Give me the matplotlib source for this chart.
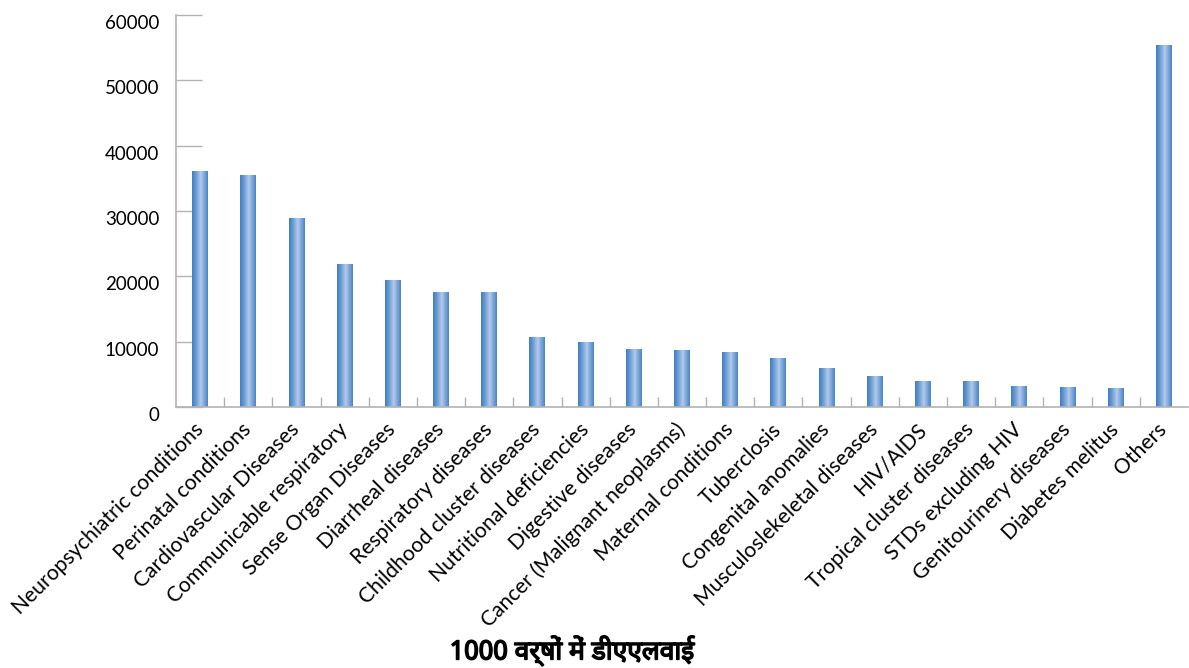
import numpy as np
import matplotlib.pyplot as plt
import matplotlib.patheffects as pe
from matplotlib.colors import LinearSegmentedColormap

# DALY (हज़ार वर्षों में) by cause
causes = ['Neuropsychiatric conditions', 'Perinatal conditions', 'Cardiovascular Diseases',
          'Communicable respiratory', 'Sense Organ Diseases', 'Diarrheal diseases',
          'Respiratory diseases', 'Childhood cluster diseases', 'Nutritional deficiencies',
          'Digestive diseases', 'Cancer (Malignant neoplasms)', 'Maternal conditions',
          'Tuberclosis', 'Congenital anomalies', 'Musculoslekeletal diseases', 'HIV/AIDS',
          'Tropical cluster diseases', 'STDs excluding HIV', 'Genitourinery diseases',
          'Diabetes melitus', 'Others']
dalys = [36000, 35500, 28900, 21750, 19300, 17500, 17500, 10600, 9800, 8750, 8600,
         8300, 7400, 5850, 4620, 3850, 3850, 3100, 2950, 2800, 55400]
yticks = [0, 10000, 20000, 30000, 40000, 50000, 60000]
xlabel = '1000 वर्षों में डीएएलवाई'

fig = plt.figure(figsize=(11.89, 6.68), dpi=100)
ax = fig.add_axes([176 / 1189, 1 - 407 / 668, 1012 / 1189, 392 / 668])

x = np.arange(len(causes))
bars = ax.bar(x, dalys, width=0.33, color='none', edgecolor='none')

# horizontal shading across each bar
shade = LinearSegmentedColormap.from_list(
    'shade', [(0.0, '#3f7dc4'), (0.25, '#6b9bd4'), (0.55, '#b3cbea'),
              (0.8, '#79a3d8'), (1.0, '#4a85c8')])
grad = np.linspace(0, 1, 64).reshape(1, -1)
for b in bars:
    x0, w, h = b.get_x(), b.get_width(), b.get_height()
    ax.imshow(grad, cmap=shade, extent=(x0, x0 + w, 0, h), aspect='auto',
              origin='lower', zorder=2)

ax.set_xlim(-0.5, len(causes) - 0.5)
ax.set_ylim(0, 60000)

for s in ['top', 'right']:
    ax.spines[s].set_visible(False)
for s in ['left', 'bottom']:
    ax.spines[s].set_color('#b3b3b3')
    ax.spines[s].set_linewidth(1.2)

ax.set_yticks(yticks)
ax.set_yticklabels([str(v) for v in yticks], fontsize=13.5, family='Lato')
ax.tick_params(axis='y', direction='in', length=19, width=1, color='#b3b3b3', pad=12)
for lbl in ax.get_yticklabels():
    lbl.set_va('top')

ax.set_xticks(x)
ax.set_xticklabels(causes, rotation=45, ha='right', va='center',
                   rotation_mode='anchor', fontsize=15.2, family='Lato')
ax.set_xticks(np.arange(0.5, len(causes) - 1, 1), minor=True)
ax.tick_params(axis='x', which='major', length=0, pad=14)
ax.tick_params(axis='x', which='minor', direction='in', length=7.5, width=1,
               color='#b3b3b3')

# the Devanagari face has no bold weight, so thicken the strokes
fig.text(572 / 1189, 1 - 651 / 668, xlabel, ha='center', va='center',
         fontsize=19, color='black',
         family=['Noto Sans Devanagari', 'Lohit Devanagari', 'Noto Sans', 'DejaVu Sans'],
         path_effects=[pe.withStroke(linewidth=1.1, foreground='black')])

fig.savefig('out.png', dpi=100)
